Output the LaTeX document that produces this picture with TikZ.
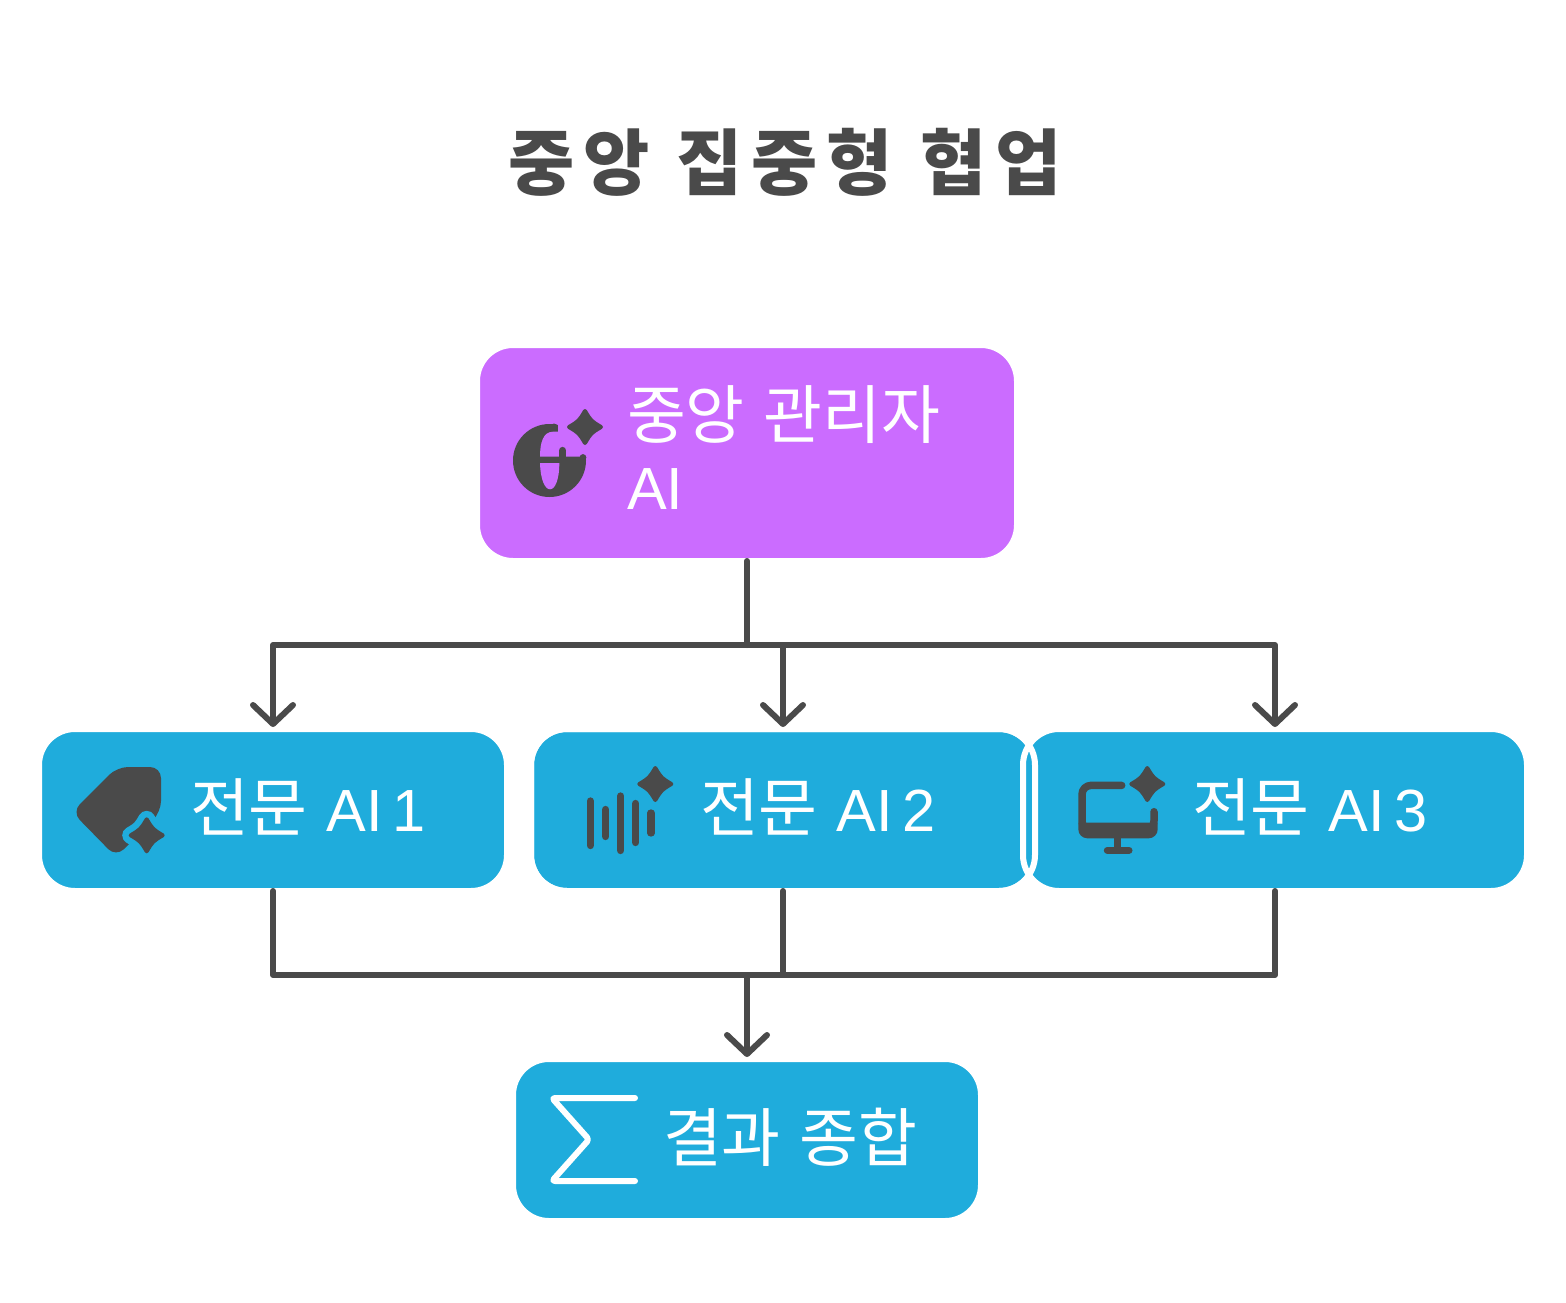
\documentclass[tikz,border=0pt]{standalone}
\usepackage{fontspec}
\setmainfont[WordSpace=1.3]{Noto Sans CJK KR}
\newfontfamily\titlefont[LetterSpace=12,WordSpace=1.1]{Noto Sans CJK KR}
\newfontfamily\latfont[Scale=0.93,WordSpace=0.6]{Liberation Sans}
\usetikzlibrary{arrows.meta,positioning,calc}

\definecolor{boxpurple}{HTML}{CB6CFF}
\definecolor{boxblue}{HTML}{1FACDC}
\definecolor{inkgray}{HTML}{4A4A4A}

\begin{document}
\begin{tikzpicture}[
  x=1pt, y=-1pt,
  line/.style={draw=inkgray, line width=6pt, line cap=round, line join=round},
  arrowline/.style={line, -{Straight Barb[length=19pt,width=40pt,line width=6pt,round]}, shorten >=2pt},
  aibox/.style={rectangle, draw=white, line width=6pt, fill=boxblue, rounded corners=36pt,
              inner sep=0pt, outer sep=0pt, minimum width=504pt, minimum height=162pt},
  boxtext/.style={inner sep=0pt, outer sep=0pt, text=white, align=left, yshift=3pt,
              font=\fontsize{64}{71}\selectfont},
  sparkleline/.style={line width=4pt},
  sparkle/.pic={
    \filldraw[sparkleline, line join=round] (0,-16) .. controls (6,-6) .. (16,0)
      .. controls (6,6) .. (0,16) .. controls (-6,6) .. (-16,0) .. controls (-6,-6) .. (0,-16) -- cycle;
  }
]
\useasboundingbox (0,0) rectangle (1566,1302);

% =======================================================
%                     BOXES
% =======================================================
\node[inkgray, font=\titlefont\fontsize{72}{72}\bfseries\selectfont] (title) at (785,162) {중앙 집중형 협업};

\node[aibox, fill=boxpurple, minimum width=540pt, minimum height=216pt] (central) at (747,453) {};
\node[aibox] (ai2) [below=168pt of central, xshift=36pt] {};
\node[aibox, minimum width=468pt] (ai1) [left=24pt of ai2] {};
\node[aibox] (ai3) [right=-12pt of ai2] {};
\node[aibox, minimum width=468pt] (result) [below=498pt of central] {};

% the left box keeps its outline where the two boxes overlap
\draw[draw=white, line width=6pt, rounded corners=36pt] (ai2.north west) rectangle (ai2.south east);

\node[boxtext, right=150pt of central.west, yshift=2pt] (centraltext) {중앙 관리자\\{\latfont AI}};
\node[boxtext, right=151pt of ai1.west] (ai1text) {전문 {\latfont AI 1}};
\node[boxtext, right=169pt of ai2.west] (ai2text) {전문 {\latfont AI 2}};
\node[boxtext, right=169pt of ai3.west] (ai3text) {전문 {\latfont AI 3}};
\node[boxtext, right=150pt of result.west] (resulttext) {결과 종합};

% =======================================================
%                     CONNECTIONS
% =======================================================
\coordinate (topbus) at ($(central.south)+(0,84)$);
\draw[line] (central.south) -- (topbus);
\draw[arrowline] (topbus) -| (ai1.north);
\draw[arrowline] (topbus) -| (ai2.north);
\draw[arrowline] (topbus) -| (ai3.north);

\coordinate (lowbus) at ($(result.north)+(0,-84)$);
\draw[line] (ai1.south) |- (lowbus);
\draw[line] (ai2.south) |- (lowbus);
\draw[line] (ai3.south) |- (lowbus);
\draw[arrowline] (lowbus) -- (result.north);

% =======================================================
%                     ICONS
% =======================================================
% globe
\fill[inkgray] (549.5,460.5) circle (36.5pt);
\fill[boxpurple] (540,456.7) .. controls (540,443) and (543,431.7) .. (553,431.7)
  -- (558,431.7) -- (558,415) -- (600,415) -- (600,456.7) -- cycle;
\fill[boxpurple] (540,463) .. controls (540.5,480) and (545,489.3) .. (550,489.3)
  .. controls (555,489.3) and (559.3,480) .. (559.3,463) -- cycle;
\draw[line, line width=7.3pt] (562.7,450.5) -- (562.7,458);
\fill[inkgray] (554,427.3) circle (3.8pt);
\fill[inkgray] (583,457.5) circle (3.4pt);
\pic[inkgray] at (585,427) {sparkle};

% tag
\fill[inkgray, rounded corners=11pt] (72,812) -- (117,767) -- (161,767) -- (161,812) -- (116,857) -- cycle;
\pic[boxblue, sparkleline/.style={line width=17pt}] at (146.7,835.3) {sparkle};
\pic[inkgray] at (146.7,835.3) {sparkle};

% sound bars
\foreach \barx/\bartop/\barbot in {590.3/801/845.5, 605.7/809.5/836.5, 620.7/796/850.5, 635.7/803.5/842.5, 651/813/833} {
  \draw[line, line width=7.3pt] (\barx,\bartop) -- (\barx,\barbot);
}
\pic[inkgray] at (655.3,784) {sparkle};

% monitor
\draw[line, line width=7.5pt, rounded corners=9pt] (1121.7,785.4) -- (1082,785.4) -- (1082,830) -- (1154,830) -- (1154,811.7);
\fill[inkgray] (1078.3,822.7) {[rounded corners=9pt] -- (1078.3,838.3) -- (1157.7,838.3)} -- (1157.7,822.7) -- cycle;
\draw[line, line width=7pt] (1117.7,838) -- (1117.7,850.3);
\draw[line, line width=7pt] (1107.3,850.3) -- (1129,850.3);
\pic[inkgray] at (1147.3,784) {sparkle};

% sigma
\draw[draw=white, line width=6pt, line cap=round, line join=round, rounded corners=3pt] (635,1098) -- (552,1098) -- (589,1139.5) -- (552,1181) -- (635,1181);
\end{tikzpicture}
\end{document}
